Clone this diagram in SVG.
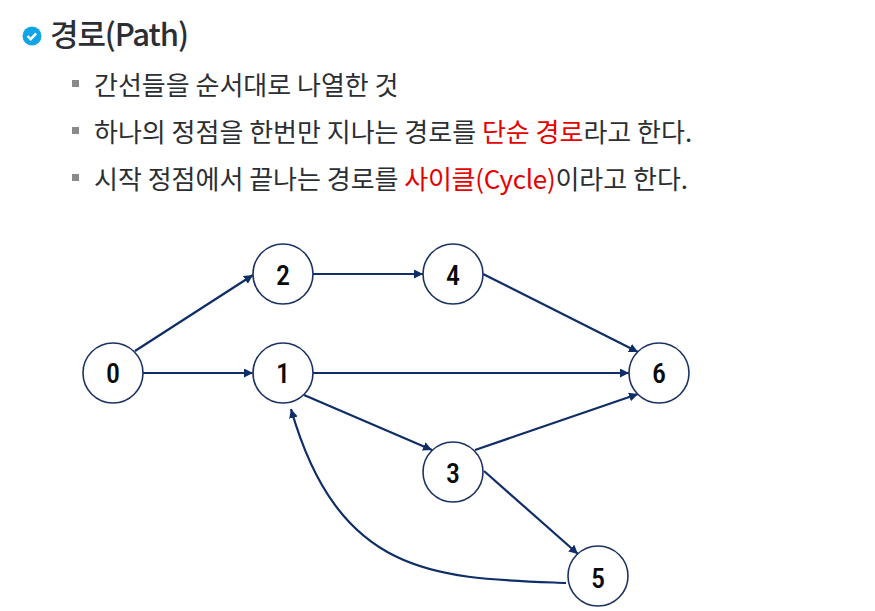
<svg xmlns="http://www.w3.org/2000/svg" width="875" height="611" viewBox="0 0 875 611">
<style>
.t{font-family:"Noto Sans CJK KR","Noto Sans",sans-serif;font-size:26px;fill:#2b2f33}
.r{fill:#e60000}
.b{fill:#8a8a8a}
.n{fill:#fff;stroke:#1c3263;stroke-width:1.6}
.l{font-family:"Roboto Condensed",Roboto,"Liberation Sans",sans-serif;font-size:28px;font-weight:500;fill:#0a0a0a;text-anchor:middle}
.e{fill:none;stroke:#0f2d66;stroke-width:2.2;marker-end:url(#a)}
</style>
<defs><marker id="a" markerUnits="userSpaceOnUse" markerWidth="10" markerHeight="10" refX="9" refY="4.5" orient="auto"><path d="M0 0L9 4.5L0 9Z" fill="#0f2d66"/></marker></defs>
<rect width="875" height="611" fill="#fff"/>
<circle cx="32" cy="36" r="9.5" fill="#12a5e6"/>
<path d="M27.5 36l3.2 3.2 5.5-5.8" fill="none" stroke="#fff" stroke-width="2.4"/>
<text x="50" y="46" font-family="'Noto Sans CJK KR','Noto Sans',sans-serif" font-size="31" font-weight="500" fill="#2b2f33" letter-spacing="-1.1">경로(Path)</text>
<rect x="72" y="80" width="7" height="7" class="b"/>
<rect x="72" y="127" width="7" height="7" class="b"/>
<rect x="72" y="174" width="7" height="7" class="b"/>
<text x="94" y="95" class="t">간선들을 순서대로 나열한 것</text>
<text x="94" y="142" class="t">하나의 정점을 한번만 지나는 경로를 <tspan class="r">단순 경로</tspan>라고 한다.</text>
<text x="94" y="189" class="t">시작 정점에서 끝나는 경로를 <tspan class="r" letter-spacing="-.3">사이클(Cycle)</tspan>이라고 한다.</text>
<g id="connectors">
<path class="e" d="M135 351L253 275"/>
<path class="e" d="M143 373L253 373"/>
<path class="e" d="M313 274L423 274"/>
<path class="e" d="M483 274L638 352"/>
<path class="e" d="M313 373L629 373"/>
<path class="e" d="M304 395L432 450"/>
<path class="e" d="M475 450L638 394"/>
<path class="e" d="M484 471L578 554"/>
<path class="e" d="M566 583C440 578 340 580 291 409"/>
</g>
<g id="node0"><circle class="n" cx="113" cy="373" r="30"/><text class="l" x="113" y="383">0</text></g>
<g id="node1"><circle class="n" cx="283" cy="373" r="30"/><text class="l" x="283" y="383">1</text></g>
<g id="node2"><circle class="n" cx="283" cy="274" r="30"/><text class="l" x="283" y="285">2</text></g>
<g id="node3"><circle class="n" cx="453" cy="472" r="30"/><text class="l" x="453" y="483">3</text></g>
<g id="node4"><circle class="n" cx="453" cy="274" r="30"/><text class="l" x="453" y="285">4</text></g>
<g id="node5"><circle class="n" cx="598" cy="576" r="30"/><text class="l" x="598" y="588">5</text></g>
<g id="node6"><circle class="n" cx="659" cy="373" r="30"/><text class="l" x="659" y="383">6</text></g>
</svg>
